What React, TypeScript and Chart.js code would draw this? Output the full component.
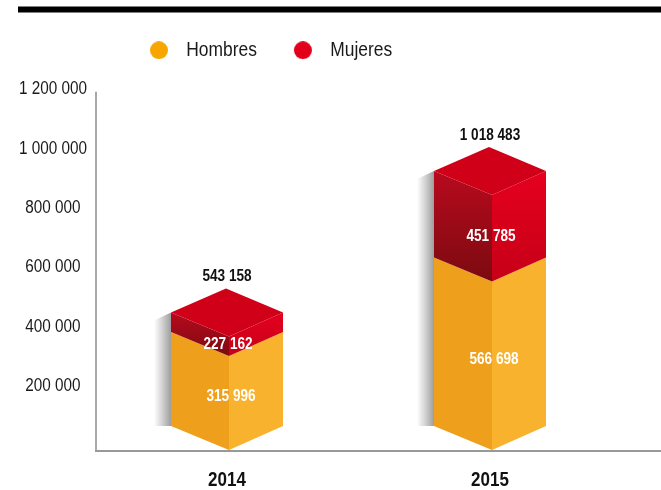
import React, { useEffect, useRef } from "react";
import { Chart, registerables } from "chart.js";

Chart.register(...registerables);

const years = [2014, 2015];
const hombres = [315996, 566698];
const mujeres = [227162, 451785];
const totals = [543158, 1018483];
const yTicks = [200000, 400000, 600000, 800000, 1000000, 1200000];

const FONT = '"Liberation Sans", Arial, sans-serif';
const NARROW_RATIO = 0.85;
const fmt = (v: number) => String(v).replace(/\B(?=(\d{3})+(?!\d))/g, " ");

const grad = (ctx: CanvasRenderingContext2D, y0: number, y1: number, a: string, b: string) => {
  const g = ctx.createLinearGradient(0, y0, 0, y1);
  g.addColorStop(0, a);
  g.addColorStop(1, b);
  return g;
};
const poly = (ctx: CanvasRenderingContext2D, pts: number[][], fill: any) => {
  ctx.beginPath();
  pts.forEach((p, i) => (i ? ctx.lineTo(p[0], p[1]) : ctx.moveTo(p[0], p[1])));
  ctx.closePath();
  ctx.fillStyle = fill;
  ctx.fill();
};

const legendDot = (color: string) => {
  const c = document.createElement("canvas");
  c.width = 35;
  c.height = 18;
  const x = c.getContext("2d")!;
  x.fillStyle = color;
  x.beginPath();
  x.arc(18, 9, 9, 0, Math.PI * 2);
  x.fill();
  return c;
};

// Arial Narrow look: no narrow face is installed, so all text is condensed horizontally.
const condense = (ctx: any) => {
  const fill = ctx.fillText.bind(ctx);
  const measure = ctx.measureText.bind(ctx);
  ctx.measureText = (t: string) => ({ width: measure(t).width * NARROW_RATIO });
  ctx.fillText = (t: string, x: number, y: number) => fill(t, x, y, measure(t).width * NARROW_RATIO);
};

const cubePlugin = {
  id: "cubes",
  beforeDraw(chart: any) {
    const ctx = chart.ctx;
    ctx.save();
    ctx.fillStyle = "#fff";
    ctx.fillRect(0, 0, chart.width, chart.height);
    ctx.fillStyle = "#000";
    ctx.fillRect(18, 6.5, chart.width - 18, 6);
    ctx.strokeStyle = "#8c8c8c";
    ctx.lineWidth = 1.5;
    ctx.beginPath();
    ctx.moveTo(chart.chartArea.left, chart.scales.y.getPixelForValue(yTicks[yTicks.length - 1]) - 1.5);
    ctx.lineTo(chart.chartArea.left, chart.chartArea.bottom);
    ctx.stroke();
    ctx.restore();
    chart.legend.left = 113;
  },
  beforeDatasetsDraw(chart: any) {
    const ctx: CanvasRenderingContext2D = chart.ctx;
    const lower = chart.getDatasetMeta(0).data;
    const upper = chart.getDatasetMeta(1).data;
    ctx.save();
    years.forEach((_, i) => {
      const o = lower[i];
      const r = upper[i];
      const w = o.width;
      const L = o.x - w / 2;
      const R = o.x + w / 2;
      const F = o.x + 2;
      const A = o.x - 1;
      const rise = 24;
      const apex = r.y;
      const frontTop = apex + 2 * rise;
      const seam = o.y;
      const base = o.base;

      const sg = ctx.createLinearGradient(L - 17, 0, L, 0);
      sg.addColorStop(0, "rgba(150,150,150,0)");
      sg.addColorStop(1, "rgba(140,140,140,0.85)");
      poly(ctx, [[L, apex + rise], [L, base - rise], [L - 17, base - rise], [L - 17, apex + rise + 8]], sg);

      poly(ctx, [[L, seam - rise], [F, seam], [F, base], [L, base - rise]], "#ee9f1c");
      poly(ctx, [[F, seam], [R, seam - rise], [R, base - rise], [F, base]], "#f8b22e");

      poly(ctx, [[L, apex + rise], [F, frontTop], [F, seam], [L, seam - rise]], grad(ctx, apex + rise, seam, "#b80a1e", "#7c0a10"));
      poly(ctx, [[F, frontTop], [R, apex + rise], [R, seam - rise], [F, seam]], grad(ctx, apex + rise, seam, "#e6001f", "#c60017"));
      poly(ctx, [[A, apex], [R, apex + rise], [F, frontTop], [L, apex + rise]], "#d00019");

      ctx.textAlign = "center";
      ctx.textBaseline = "middle";
      ctx.font = `bold 16px ${FONT}`;
      ctx.fillStyle = "#111";
      ctx.fillText(fmt(totals[i]), o.x, apex - 12);
      ctx.fillStyle = "#fff";
      ctx.fillText(fmt(mujeres[i]), o.x + 1, (frontTop + seam) / 2 - 2);
      ctx.fillText(fmt(hombres[i]), o.x + 4, (seam + base) / 2 - 6);
    });
    ctx.restore();
    return false;
  },
};

export default function App() {
  const ref = useRef<HTMLCanvasElement>(null);
  useEffect(() => {
    condense(ref.current!.getContext("2d"));
    const chart = new Chart(ref.current!, {
      type: "bar",
      data: {
        labels: years,
        datasets: [
          { label: "Hombres", data: hombres, backgroundColor: "#f7a600", xAxisID: "x", yAxisID: "y", barThickness: 112 },
          { label: "Mujeres", data: mujeres, backgroundColor: "#e2001a", xAxisID: "x", yAxisID: "y", barThickness: 112 },
        ],
      },
      options: {
        responsive: false,
        animation: false,
        devicePixelRatio: 1,
        layout: { padding: { top: 12, left: 0, right: 0, bottom: 0 } },
        plugins: {
          tooltip: { enabled: false },
          legend: {
            position: "top",
            align: "start",
            labels: {
              font: { family: FONT, size: 20.5 },
              color: "#1a1a1a",
              padding: 28,
              usePointStyle: true,
              pointStyleWidth: 35,
              boxHeight: 18,
              generateLabels: (c: any) =>
                c.data.datasets.map((d: any, i: number) => ({
                  text: d.label,
                  datasetIndex: i,
                  fontColor: "#1a1a1a",
                  pointStyle: legendDot(d.backgroundColor),
                  fillStyle: d.backgroundColor,
                  lineWidth: 0,
                  strokeStyle: "transparent",
                })),
            },
          },
        },
        scales: {
          x: {
            type: "linear",
            stacked: true,
            offset: false,
            min: 2014 - 131 / 263,
            max: 2014 - 131 / 263 + 565 / 263,
            afterBuildTicks: (s: any) => {
              s.ticks = years.map((v) => ({ value: v }));
            },
            afterFit: (s: any) => {
              s.height = 39;
            },
            grid: { display: false, drawTicks: false, offset: false },
            border: { display: true, color: "#999999", width: 2 },
            ticks: {
              autoSkip: false,
              maxRotation: 0,
              padding: 17,
              color: "#111",
              font: { family: FONT, size: 20, weight: "bold" },
              callback: (v: any) => String(v),
            },
          },
          y: {
            display: false,
            stacked: true,
            min: -3367,
            max: 1276094,
          },
          yt: {
            type: "linear",
            position: "left",
            min: -17000,
            max: 1262461,
            afterBuildTicks: (s: any) => {
              s.ticks = yTicks.map((v) => ({ value: v }));
            },
            afterFit: (s: any) => {
              s.width = 96;
            },
            grid: { display: false, drawTicks: false },
            border: { display: false },
            ticks: {
              autoSkip: false,
              crossAlign: "center",
              padding: 9,
              color: "#1a1a1a",
              font: { family: FONT, size: 18 },
              callback: (v: any) => fmt(Number(v)),
            },
          },
        },
      } as any,
      plugins: [cubePlugin as any],
    });
    return () => chart.destroy();
  }, []);
  return (
    <div style={{ position: "fixed", left: 0, top: 0, width: 661, height: 490, overflow: "hidden" }}>
      <canvas ref={ref} width={661} height={490} style={{ display: "block" }} />
    </div>
  );
}
